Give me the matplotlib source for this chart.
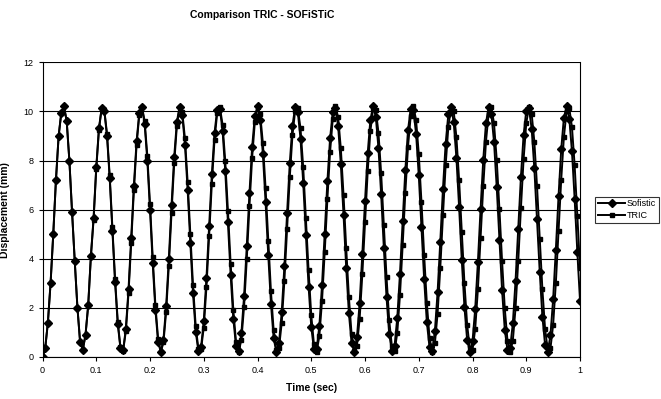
import numpy as np
import matplotlib.pyplot as plt

# time axis, 0.005 s steps
time = np.arange(201) * 0.005

sofistic = [
    0.0, 0.35, 1.4, 3.0, 5.0, 7.2, 9.0, 9.95, 10.2, 9.6,
    8.0, 5.9, 3.9, 2.0, 0.6, 0.3, 0.9, 2.1, 4.1, 5.66,
    7.73, 9.31, 10.13, 10.02, 9.00, 7.27, 5.15, 3.04, 1.34, 0.36,
    0.28, 1.14, 2.75, 4.83, 6.97, 8.79, 9.92, 10.17, 9.49, 8.00,
    5.99, 3.82, 1.92, 0.63, 0.20, 0.71, 2.06, 4.00, 6.17, 8.15,
    9.58, 10.19, 9.86, 8.65, 6.80, 4.64, 2.59, 1.03, 0.25, 0.41,
    1.46, 3.21, 5.34, 7.44, 9.12, 10.07, 10.09, 9.21, 7.56, 5.48,
    3.34, 1.55, 0.45, 0.24, 0.96, 2.48, 4.51, 6.67, 8.55, 9.81,
    10.20, 9.65, 8.26, 6.30, 4.14, 2.17, 0.77, 0.21, 0.58, 1.82,
    3.69, 5.85, 7.89, 9.42, 10.16, 9.97, 8.88, 7.10, 4.96, 2.87,
    1.22, 0.31, 0.33, 1.25, 2.92, 5.02, 7.15, 8.91, 9.98, 10.15,
    9.39, 7.84, 5.80, 3.64, 1.78, 0.56, 0.21, 0.80, 2.21, 4.19,
    6.35, 8.30, 9.67, 10.20, 9.79, 8.51, 6.62, 4.45, 2.43, 0.93,
    0.23, 0.46, 1.59, 3.39, 5.53, 7.61, 9.24, 10.11, 10.05, 9.09,
    7.39, 5.29, 3.17, 1.42, 0.39, 0.26, 1.06, 2.64, 4.69, 6.85,
    8.69, 9.88, 10.19, 9.56, 8.11, 6.12, 3.95, 2.02, 0.69, 0.20,
    0.65, 1.96, 3.87, 6.04, 8.04, 9.52, 10.18, 9.91, 8.75, 6.92,
    4.78, 2.71, 1.11, 0.28, 0.37, 1.37, 3.09, 5.21, 7.32, 9.04,
    10.03, 10.12, 9.29, 7.68, 5.61, 3.47, 1.64, 0.49, 0.22, 0.89,
    2.36, 4.37, 6.54, 8.45, 9.75, 10.20, 9.71, 8.37, 6.43, 4.27,
    2.28,
]

tric = [
    0.0, 0.35, 1.4, 3.0, 5.0, 7.2, 9.0, 9.95, 10.2, 9.6,
    8.0, 5.9, 3.9, 2.0, 0.6, 0.3, 0.9, 2.1, 4.1, 5.58,
    7.65, 9.26, 10.11, 10.05, 9.09, 7.39, 5.29, 3.18, 1.44, 0.40,
    0.26, 1.04, 2.59, 4.63, 6.78, 8.63, 9.85, 10.19, 9.61, 8.20,
    6.23, 4.07, 2.12, 0.75, 0.20, 0.59, 1.84, 3.71, 5.86, 7.89,
    9.42, 10.16, 9.97, 8.90, 7.13, 5.01, 2.92, 1.26, 0.33, 0.31,
    1.20, 2.84, 4.92, 7.05, 8.84, 9.94, 10.17, 9.46, 7.97, 5.95,
    3.80, 1.91, 0.63, 0.20, 0.71, 2.05, 3.98, 6.14, 8.12, 9.56,
    10.19, 9.88, 8.70, 6.87, 4.73, 2.67, 1.09, 0.28, 0.37, 1.38,
    3.10, 5.20, 7.31, 9.02, 10.03, 10.13, 9.31, 7.73, 5.67, 3.53,
    1.70, 0.52, 0.21, 0.84, 2.28, 4.26, 6.42, 8.35, 9.69, 10.20,
    9.77, 8.49, 6.60, 4.44, 2.43, 0.93, 0.23, 0.46, 1.56, 3.36,
    5.49, 7.56, 9.20, 10.09, 10.07, 9.14, 7.48, 5.39, 3.26, 1.50,
    0.43, 0.24, 0.98, 2.51, 4.54, 6.69, 8.57, 9.81, 10.20, 9.65,
    8.27, 6.32, 4.16, 2.20, 0.79, 0.21, 0.56, 1.77, 3.62, 5.77,
    7.81, 9.36, 10.14, 10.00, 8.96, 7.22, 5.10, 3.00, 1.31, 0.35,
    0.29, 1.15, 2.76, 4.83, 6.96, 8.77, 9.91, 10.18, 9.51, 8.04,
    6.04, 3.89, 1.98, 0.67, 0.20, 0.67, 1.98, 3.89, 6.05, 8.05,
    9.52, 10.18, 9.91, 8.77, 6.95, 4.82, 2.75, 1.14, 0.28, 0.35,
    1.32, 3.01, 5.11, 7.22, 8.96, 10.00, 10.14, 9.36, 7.80, 5.76,
    3.61,
]

plt.rcParams['font.family'] = ['Liberation Sans', 'DejaVu Sans']

fig = plt.figure(figsize=(6.61, 3.99), dpi=100)
ax = fig.add_axes([0.0643, 0.1053, 0.8132, 0.7386])

ax.plot(time, sofistic, color='black', lw=1.4, marker='D', ms=3.6, label='Sofistic')
ax.plot(time, tric, color='black', lw=1.4, marker='s', ms=3.0, label='TRIC')

ax.set_xlim(0, 1)
ax.set_ylim(0, 12)
ax.set_xticks(np.arange(0, 1.01, 0.1))
ax.set_xticklabels(['0', '0.1', '0.2', '0.3', '0.4', '0.5', '0.6', '0.7', '0.8', '0.9', '1'])
ax.set_yticks(range(0, 13, 2))
ax.yaxis.grid(True, color='black', lw=0.8)
ax.set_axisbelow(True)
ax.tick_params(labelsize=6.5, length=3, width=0.8, direction='out')
for side in ['top']:
    ax.spines[side].set_visible(False)
ax.spines['right'].set_linewidth(0.8)
ax.spines['left'].set_linewidth(0.8)
ax.spines['bottom'].set_linewidth(0.8)

ax.set_xlabel('Time (sec)', fontsize=7.5, fontweight='bold', labelpad=6)
ax.set_ylabel('Displacement (mm)', fontsize=7.5, fontweight='bold', labelpad=10)
fig.text(0.396, 0.962, 'Comparison TRIC - SOFiSTiC', fontsize=7.5,
         fontweight='bold', ha='center', va='center')

leg = ax.legend(loc='center left', bbox_to_anchor=(1.02, 0.5), fontsize=6.5,
                frameon=True, fancybox=False, edgecolor='black',
                handlelength=3, borderpad=0.3, labelspacing=0.3, handletextpad=0.2)
leg.get_frame().set_linewidth(0.8)

fig.savefig('out.png', dpi=100)
